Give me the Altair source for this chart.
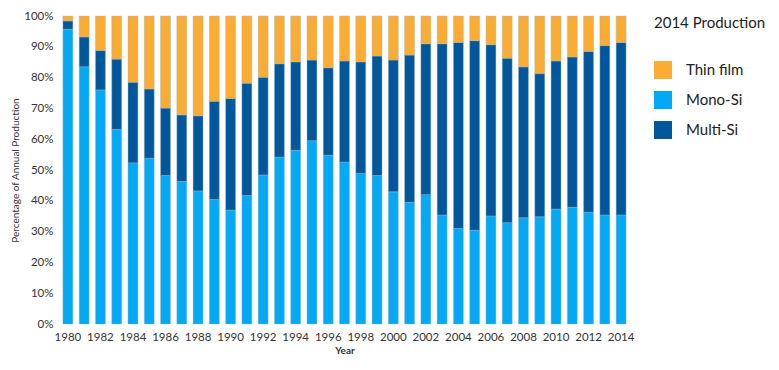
import altair as alt
import pandas as pd

years = list(range(1980, 2015))
mono_si = [95.7, 83.5, 76.0, 63.2, 52.3, 53.8, 48.2, 46.3, 43.2, 40.4, 37.0, 41.7,
           48.4, 54.2, 56.4, 59.5, 54.8, 52.6, 48.9, 48.2, 42.9, 39.5, 42.0, 35.4,
           31.0, 30.4, 35.1, 32.9, 34.5, 34.8, 37.3, 37.9, 36.3, 35.4, 35.4]
multi_si = [2.7, 9.7, 12.8, 22.8, 26.2, 22.5, 21.9, 21.6, 24.4, 31.9, 36.2, 36.5,
            31.7, 30.3, 28.7, 26.2, 28.4, 32.8, 36.2, 38.8, 42.8, 47.8, 49.0, 55.6,
            60.4, 61.6, 55.6, 53.4, 49.0, 46.5, 48.1, 48.8, 52.2, 55.0, 56.0]
thin_film = [1.6, 6.8, 11.2, 14.0, 21.5, 23.7, 29.9, 32.1, 32.4, 27.7, 26.8, 21.8,
             19.9, 15.5, 14.9, 14.3, 16.8, 14.6, 14.9, 13.0, 14.3, 12.7, 9.0, 9.0,
             8.6, 8.0, 9.3, 13.7, 16.5, 18.7, 14.6, 13.3, 11.5, 9.6, 8.6]

series_names = ["Thin film", "Mono-Si", "Multi-Si"]
series_colors = ["#FBAC33", "#03A9F4", "#01579B"]
stack_rank = {"Mono-Si": 0, "Multi-Si": 1, "Thin film": 2}
y_ticks = [i / 10 for i in range(11)]

rows = []
for name, vals in [("Mono-Si", mono_si), ("Multi-Si", multi_si), ("Thin film", thin_film)]:
    for y, v in zip(years, vals):
        rows.append({"Year": y, "Technology": name, "Share": v, "rank": stack_rank[name]})
df = pd.DataFrame(rows)

font = "Lato"

chart = alt.Chart(df).mark_bar(stroke="#9db5c0", strokeWidth=0.6, strokeOpacity=0.7).encode(
    x=alt.X("Year:O", title="Year",
            scale=alt.Scale(paddingInner=0.39, paddingOuter=0.18),
            axis=alt.Axis(values=years[::2], labelAngle=0, ticks=False, domain=False,
                          labelPadding=7, titlePadding=3, labelFontSize=11.5,
                          titleFontSize=10, titleFontWeight="bold",
                          labelOverlap=False)),
    y=alt.Y("Share:Q", stack="normalize", title="Percentage of Annual Production",
            scale=alt.Scale(domain=[0, 1]),
            axis=alt.Axis(format=".0%", values=y_ticks, labelOverlap=False,
                          grid=False, ticks=False, domain=False, labelPadding=7,
                          titlePadding=3, labelFontSize=11.5, titleFontSize=10,
                          titleFontWeight="normal")),
    color=alt.Color("Technology:N",
                    scale=alt.Scale(domain=series_names, range=series_colors),
                    legend=alt.Legend(title="2014 Production", orient="none",
                                      legendX=594, legendY=0,
                                      symbolType="square", symbolSize=324,
                                      symbolStrokeWidth=0, symbolOpacity=1,
                                      labelFontSize=15, titleFontSize=15,
                                      titleFontWeight="normal", titlePadding=30,
                                      rowPadding=12, labelOffset=14,
                                      labelColor="#222", titleColor="#222")),
    order=alt.Order("rank:Q", sort="ascending"),
).properties(
    width=569, height=308,
    autosize=alt.AutoSizeParams(type="none"),
    padding={"left": 52, "top": 8, "right": 142, "bottom": 34},
).configure(
    font=font,
).configure_axis(
    labelColor="#333", titleColor="#333", labelFont=font, titleFont=font,
).configure_legend(
    labelFont=font, titleFont=font,
).configure_view(stroke=None)

chart.save("out.html", embed_options={"renderer": "svg", "actions": False})
